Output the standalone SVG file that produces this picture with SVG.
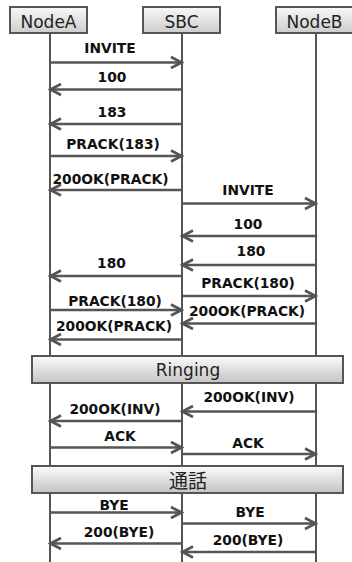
<svg xmlns="http://www.w3.org/2000/svg" width="352" height="562" viewBox="0 0 352 562">
<style>
.life{stroke:#555;stroke-width:2;fill:none}
.box{fill:url(#gBox);stroke:#555;stroke-width:2}
.bar{fill:url(#gBar);stroke:#555;stroke-width:2}
.ht{font-family:"DejaVu Sans",Verdana,sans-serif;font-size:17px;fill:#222;text-anchor:middle}
.bt{font-family:"DejaVu Sans","Noto Sans CJK JP",sans-serif;font-size:17px;fill:#222;text-anchor:middle}
.msg{stroke:#555;stroke-width:2.6;fill:none;marker-end:url(#ah)}
.lb{font-family:"DejaVu Sans",Verdana,sans-serif;font-size:13.8px;font-weight:bold;fill:#111;text-anchor:middle}
</style>
<defs>
<linearGradient id="gBox" x1="0" y1="0" x2="0" y2="1">
<stop offset="0" stop-color="#f8f8f8"/>
<stop offset="1" stop-color="#cdcdcd"/>
</linearGradient>
<linearGradient id="gBar" x1="0" y1="0" x2="0" y2="1">
<stop offset="0" stop-color="#fbfbfb"/>
<stop offset="1" stop-color="#c4c4c4"/>
</linearGradient>
<marker id="ah" markerUnits="userSpaceOnUse" markerWidth="16" markerHeight="16" viewBox="-14 -8 16 16" refX="0" refY="0" orient="auto">
<path d="M-11,-5.5 L-0.5,0 L-11,5.5" fill="none" stroke="#555" stroke-width="2.6"/>
</marker>
</defs>
<g id="lifelines">
<line class="life" x1="50" y1="33" x2="50" y2="562"/>
<line class="life" x1="182" y1="33" x2="182" y2="562"/>
<line class="life" x1="316" y1="33" x2="316" y2="562"/>
</g>
<g id="NodeA"><rect class="box" x="10" y="7" width="77" height="26"/><text class="ht" x="48.5" y="27.5">NodeA</text></g>
<g id="SBC"><rect class="box" x="143" y="7" width="77" height="26"/><text class="ht" x="181.5" y="27.5">SBC</text></g>
<g id="NodeB"><rect class="box" x="276" y="7" width="78" height="26"/><text class="ht" x="314.5" y="27.5">NodeB</text></g>
<g id="connectors">
<line class="msg" x1="50" y1="62.5" x2="182" y2="62.5"/>
<line class="msg" x1="182" y1="89.5" x2="50" y2="89.5"/>
<line class="msg" x1="182" y1="124" x2="50" y2="124"/>
<line class="msg" x1="50" y1="156" x2="182" y2="156"/>
<line class="msg" x1="182" y1="190" x2="50" y2="190"/>
<line class="msg" x1="182" y1="203.5" x2="316" y2="203.5"/>
<line class="msg" x1="316" y1="236" x2="182" y2="236"/>
<line class="msg" x1="316" y1="265" x2="182" y2="265"/>
<line class="msg" x1="182" y1="276" x2="50" y2="276"/>
<line class="msg" x1="182" y1="296" x2="316" y2="296"/>
<line class="msg" x1="50" y1="310" x2="182" y2="310"/>
<line class="msg" x1="316" y1="323.5" x2="182" y2="323.5"/>
<line class="msg" x1="182" y1="339.5" x2="50" y2="339.5"/>
<line class="msg" x1="316" y1="411.5" x2="182" y2="411.5"/>
<line class="msg" x1="182" y1="421" x2="50" y2="421"/>
<line class="msg" x1="50" y1="447.5" x2="182" y2="447.5"/>
<line class="msg" x1="182" y1="454" x2="316" y2="454"/>
<line class="msg" x1="50" y1="512.5" x2="182" y2="512.5"/>
<line class="msg" x1="182" y1="523.5" x2="316" y2="523.5"/>
<line class="msg" x1="182" y1="543.5" x2="50" y2="543.5"/>
<line class="msg" x1="316" y1="552" x2="182" y2="552"/>
</g>
<g id="labels">
<text class="lb" x="110" y="53">INVITE</text>
<text class="lb" x="112" y="81.5">100</text>
<text class="lb" x="112" y="116.5">183</text>
<text class="lb" x="113" y="149">PRACK(183)</text>
<text class="lb" x="110.5" y="184">200OK(PRACK)</text>
<text class="lb" x="248" y="195">INVITE</text>
<text class="lb" x="248" y="229">100</text>
<text class="lb" x="251" y="255.5">180</text>
<text class="lb" x="111.5" y="268">180</text>
<text class="lb" x="248" y="288">PRACK(180)</text>
<text class="lb" x="115" y="305.5">PRACK(180)</text>
<text class="lb" x="247" y="316">200OK(PRACK)</text>
<text class="lb" x="114" y="331">200OK(PRACK)</text>
<text class="lb" x="249" y="402">200OK(INV)</text>
<text class="lb" x="115" y="413.5">200OK(INV)</text>
<text class="lb" x="120" y="440.5">ACK</text>
<text class="lb" x="248" y="448">ACK</text>
<text class="lb" x="114" y="509.5">BYE</text>
<text class="lb" x="250" y="516.5">BYE</text>
<text class="lb" x="119" y="537">200(BYE)</text>
<text class="lb" x="248" y="544.5">200(BYE)</text>
</g>
<g id="Ringing"><rect class="bar" x="32" y="356" width="311" height="27"/><text class="bt" x="188" y="376">Ringing</text></g>
<g id="Talk"><rect class="bar" x="32" y="466" width="311" height="27"/><text class="bt" x="188" y="487.5" style="font-size:19px">通話</text></g>
</svg>
